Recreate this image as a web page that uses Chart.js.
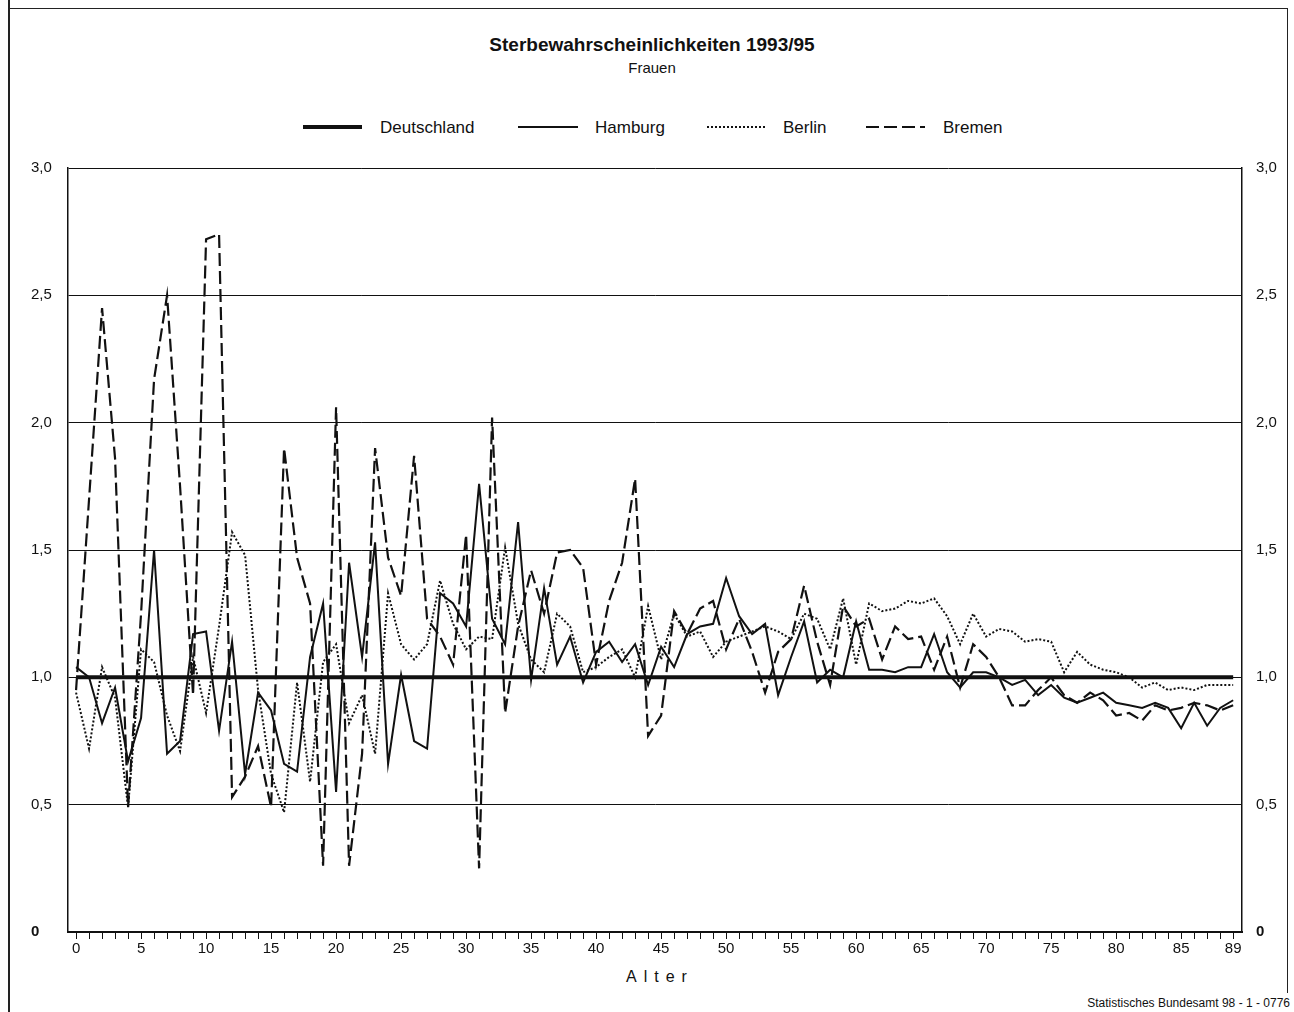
<!DOCTYPE html>
<html><head><meta charset="utf-8">
<script src="https://cdn.jsdelivr.net/npm/chart.js@4.4.1/dist/chart.umd.min.js"></script>
<style>
html,body{margin:0;padding:0;background:#fff;}
body{width:1294px;height:1012px;position:relative;overflow:hidden;font-family:"Liberation Sans",Arial,Helvetica,sans-serif;color:#111;}
#c{position:absolute;left:0;top:0;}
.abs{position:absolute;white-space:nowrap;}
.lg{position:absolute;height:20px;line-height:20px;font-size:17px;top:118px;}
</style></head><body>
<div class="abs" style="left:8px;top:0;width:0;height:1012px;border-left:2px solid #222"></div>
<div class="abs" style="left:8px;top:8px;width:1280px;height:0;border-top:1.5px solid #222"></div>
<div class="abs" style="left:1287px;top:8px;width:0;height:985px;border-left:1.5px solid #222"></div>

<div class="abs" style="left:0;width:1304px;top:34px;text-align:center;font-size:19px;font-weight:bold;">Sterbewahrscheinlichkeiten 1993/95</div>
<div class="abs" style="left:0;width:1304px;top:59px;text-align:center;font-size:15px;">Frauen</div>

<svg class="abs" style="left:0;top:111px" width="1294" height="32">
  <line x1="303" y1="16" x2="362" y2="16" stroke="#111" stroke-width="4"/>
  <line x1="518" y1="16" x2="578" y2="16" stroke="#111" stroke-width="2"/>
  <line x1="707" y1="16" x2="767" y2="16" stroke="#111" stroke-width="2" stroke-dasharray="2,2"/>
  <line x1="866" y1="16" x2="925" y2="16" stroke="#111" stroke-width="2.2" stroke-dasharray="13,5"/>
</svg>
<div class="lg" style="left:380px">Deutschland</div>
<div class="lg" style="left:595px">Hamburg</div>
<div class="lg" style="left:783px">Berlin</div>
<div class="lg" style="left:943px">Bremen</div>

<div class="abs" style="left:626px;top:968px;font-size:16px;letter-spacing:7px;">Alter</div>
<div class="abs" style="right:4px;top:996px;font-size:12px;">Statistisches Bundesamt 98 - 1 - 0776</div>

<canvas id="c" width="1294" height="1012"></canvas>
<script>
const ages = [0,1,2,3,4,5,6,7,8,9,10,11,12,13,14,15,16,17,18,19,20,21,22,23,24,25,26,27,28,29,
  30,31,32,33,34,35,36,37,38,39,40,41,42,43,44,45,46,47,48,49,50,51,52,53,54,55,56,57,58,59,
  60,61,62,63,64,65,66,67,68,69,70,71,72,73,74,75,76,77,78,79,80,81,82,83,84,85,86,87,88,89];

const deutschland = [1.0,1.0,1.0,1.0,1.0,1.0,1.0,1.0,1.0,1.0,1.0,1.0,1.0,1.0,1.0,1.0,1.0,1.0,1.0,1.0,
  1.0,1.0,1.0,1.0,1.0,1.0,1.0,1.0,1.0,1.0,1.0,1.0,1.0,1.0,1.0,1.0,1.0,1.0,1.0,1.0,
  1.0,1.0,1.0,1.0,1.0,1.0,1.0,1.0,1.0,1.0,1.0,1.0,1.0,1.0,1.0,1.0,1.0,1.0,1.0,1.0,
  1.0,1.0,1.0,1.0,1.0,1.0,1.0,1.0,1.0,1.0,1.0,1.0,1.0,1.0,1.0,1.0,1.0,1.0,1.0,1.0,
  1.0,1.0,1.0,1.0,1.0,1.0,1.0,1.0,1.0,1.0];

const hamburg = [1.04,1.0,0.82,0.96,0.67,0.84,1.5,0.70,0.75,1.17,
  1.18,0.79,1.14,0.62,0.94,0.87,0.66,0.63,1.08,1.29,
  0.55,1.45,1.08,1.53,0.66,1.01,0.75,0.72,1.33,1.29,
  1.2,1.76,1.23,1.13,1.61,0.99,1.35,1.05,1.16,0.98,
  1.1,1.14,1.06,1.13,0.97,1.12,1.04,1.17,1.2,1.21,
  1.39,1.24,1.17,1.21,0.93,1.08,1.22,0.98,1.03,1.0,
  1.22,1.03,1.03,1.02,1.04,1.04,1.17,1.02,0.96,1.02,
  1.02,1.0,0.97,0.99,0.93,0.97,0.92,0.9,0.92,0.94,
  0.9,0.89,0.88,0.9,0.88,0.8,0.9,0.81,0.88,0.91];

const berlin = [0.94,0.72,1.04,0.92,0.49,1.11,1.06,0.85,0.71,1.08,
  0.86,1.2,1.57,1.48,0.95,0.62,0.47,0.98,0.59,1.06,
  1.13,0.82,0.93,0.7,1.33,1.13,1.07,1.13,1.38,1.21,
  1.11,1.16,1.15,1.51,1.21,1.07,1.02,1.25,1.2,1.02,
  1.04,1.08,1.11,1.0,1.28,1.07,1.25,1.16,1.18,1.08,
  1.14,1.16,1.18,1.2,1.18,1.15,1.25,1.23,1.11,1.31,
  1.05,1.29,1.26,1.27,1.3,1.29,1.31,1.24,1.13,1.25,
  1.16,1.19,1.18,1.14,1.15,1.14,1.02,1.1,1.05,1.03,
  1.02,1.0,0.96,0.98,0.95,0.96,0.95,0.97,0.97,0.97];

const bremen = [0.95,1.7,2.45,1.86,0.49,1.25,2.17,2.5,1.75,0.93,
  2.72,2.74,0.53,0.61,0.73,0.49,1.9,1.47,1.29,0.26,
  2.06,0.26,0.7,1.9,1.47,1.32,1.87,1.23,1.16,1.05,
  1.56,0.25,2.02,0.86,1.2,1.42,1.25,1.49,1.5,1.43,
  1.05,1.3,1.45,1.78,0.77,0.85,1.26,1.17,1.27,1.3,
  1.11,1.23,1.1,0.94,1.1,1.15,1.36,1.14,0.97,1.28,
  1.2,1.23,1.07,1.2,1.15,1.16,1.03,1.16,0.96,1.13,
  1.08,1.0,0.89,0.89,0.95,1.0,0.93,0.9,0.94,0.91,
  0.85,0.86,0.83,0.89,0.87,0.88,0.9,0.89,0.87,0.89];

const yTickValues = [0, 0.5, 1.0, 1.5, 2.0, 2.5, 3.0];
const xLabelAges = [0,5,10,15,20,25,30,35,40,45,50,55,60,65,70,75,80,85,89];

const FONT = '"Liberation Sans", Arial, Helvetica, sans-serif';
const INK = '#111';
const pts = arr => arr.map((v, i) => ({x: ages[i], y: v}));
const fmtY = v => v === 0 ? '0' : v.toFixed(1).replace('.', ',');
const yFont = c => ({family: FONT, size: 15, weight: (c.tick && c.tick.value === 0) ? 'bold' : 'normal'});

new Chart(document.getElementById('c'), {
  type: 'line',
  data: {
    datasets: [
      {label: 'Deutschland', data: pts(deutschland), borderColor: INK, borderWidth: 4},
      {label: 'Hamburg', data: pts(hamburg), borderColor: INK, borderWidth: 2},
      {label: 'Berlin', data: pts(berlin), borderColor: INK, borderWidth: 2, borderDash: [2, 2]},
      {label: 'Bremen', data: pts(bremen), borderColor: INK, borderWidth: 2.2, borderDash: [13, 5]}
    ]
  },
  options: {
    responsive: false,
    animation: false,
    devicePixelRatio: 1,
    elements: {point: {radius: 0}, line: {tension: 0, fill: false, borderJoinStyle: 'miter'}},
    layout: {padding: {top: 168, bottom: 40, left: 31, right: 0}},
    plugins: {legend: {display: false}, tooltip: {enabled: false}, title: {display: false}},
    scales: {
      x: {
        type: 'linear', min: -0.62, max: 89.68,
        afterBuildTicks: s => { s.ticks = ages.map(v => ({value: v})); },
        afterFit: s => { s.height = 40; },
        ticks: {autoSkip: false, maxRotation: 0, minRotation: 0, padding: 1, color: INK,
          font: {family: FONT, size: 15},
          callback: v => xLabelAges.includes(v) ? String(v) : ''},
        grid: {drawOnChartArea: false, drawTicks: true, tickLength: 7, color: INK, lineWidth: 1},
        border: {display: true, color: INK, width: 2}
      },
      y: {
        position: 'left', min: 0, max: 3,
        afterBuildTicks: s => { s.ticks = yTickValues.map(v => ({value: v})); },
        afterFit: s => { s.width = 37; },
        ticks: {crossAlign: 'far', padding: 0, color: INK, font: yFont, callback: v => fmtY(v)},
        grid: {color: INK, lineWidth: 1, drawTicks: false},
        border: {display: true, color: INK, width: 1.5}
      },
      y2: {
        position: 'right', min: 0, max: 3,
        afterBuildTicks: s => { s.ticks = yTickValues.map(v => ({value: v})); },
        afterFit: s => { s.width = 52; },
        ticks: {crossAlign: 'near', padding: 14, color: INK, font: yFont, callback: v => fmtY(v)},
        grid: {drawOnChartArea: false, drawTicks: false},
        border: {display: true, color: INK, width: 1.5}
      }
    }
  }
});
</script>
</body></html>
